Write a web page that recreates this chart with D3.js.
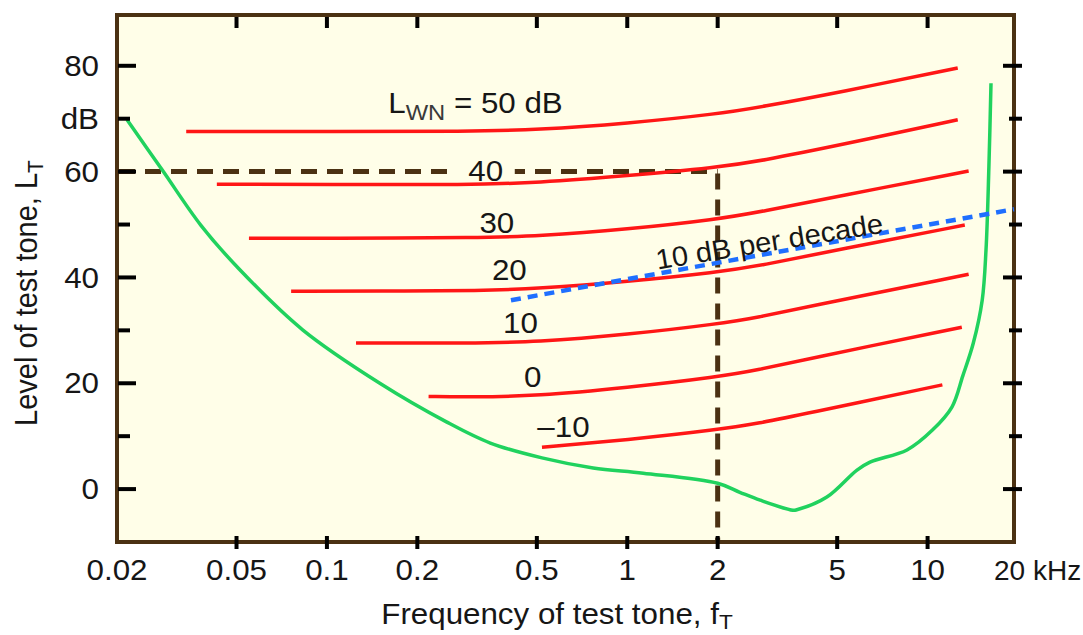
<!DOCTYPE html>
<html>
<head>
<meta charset="utf-8">
<title>masked threshold of tones in white noise</title>
<script src="https://cdn.jsdelivr.net/npm/d3@7"></script>
<style>
  body { margin: 0; background: #fff; }
  svg { display: block; }
  text { font-family: "Liberation Sans", Arial, sans-serif; fill: #161616; }
  .frame { fill: #fffee8; stroke: #4b3112; stroke-width: 4; }
  .masked { fill: none; stroke: #ff1616; stroke-width: 3.5; }
  .quiet { fill: none; stroke: #20d25e; stroke-width: 3.5; }
  .slope { fill: none; stroke: #1f6fff; stroke-width: 4.5; stroke-dasharray: 10 7; }
  .guide { fill: none; stroke: #4b3112; stroke-width: 5; stroke-dasharray: 16 10; }
  .tick { stroke: #000; stroke-width: 4; }
</style>
</head>
<body>
<svg id="main" width="1083" height="635"></svg>
<script>
// masked thresholds, [frequency kHz, level dB], one per white-noise level
let masked50 = [[0.034, 67.6], [0.1, 67.6], [0.3, 67.6], [0.5, 67.9], [1, 69.1], [2, 70.9], [2.77, 72.2], [5.1, 75.0], [12.6, 79.6]];
let masked40 = [[0.043, 57.6], [0.1, 57.6], [0.3, 57.5], [0.5, 57.9], [1, 59.2], [2, 60.8], [2.77, 62.0], [5.1, 65.0], [12.6, 69.8]];
let masked30 = [[0.055, 47.4], [0.1, 47.4], [0.33, 47.5], [0.5, 47.8], [1, 49.1], [2, 51.0], [2.77, 52.4], [5.1, 55.4], [13.7, 60.1]];
let masked20 = [[0.076, 37.4], [0.15, 37.4], [0.33, 37.5], [0.5, 37.9], [1, 39.2], [2, 41.0], [2.77, 42.2], [5.1, 45.3], [13.3, 49.9]];
let masked10 = [[0.125, 27.6], [0.3, 27.6], [0.5, 27.8], [1, 29.2], [2, 31.2], [2.77, 32.5], [3.76, 34.2], [13.7, 40.6]];
let masked0 = [[0.218, 17.5], [0.3, 17.4], [0.5, 17.6], [1, 19.2], [2, 21.2], [2.77, 22.6], [3.76, 24.3], [13.0, 30.6]];
let maskedM10 = [[0.52, 7.9], [1, 9.3], [2, 11.2], [2.77, 12.5], [3.76, 14.0], [11.2, 19.7]];

// threshold in quiet
let quiet = [[0.0216, 69.8], [0.0283, 60.3], [0.038, 49.9], [0.051, 41.6], [0.083, 30.1], [0.15, 20.0],
             [0.25, 12.7], [0.35, 8.7], [0.52, 5.9], [0.77, 4.0], [1.13, 3.0], [2.0, 1.1], [2.37, -0.6],
             [2.77, -2.1], [3.56, -4.0], [3.67, -3.9], [4.62, -1.5], [5.82, 3.6], [6.43, 5.1], [8.54, 7.4],
             [10.4, 11.2], [12.05, 15.5], [13.1, 21.4], [14.2, 27.6], [15.2, 35.7], [15.65, 45.2],
             [16.0, 60.9], [16.26, 76.7]];

// 10 dB per decade reference
let slopeLine = [[0.41, 35.7], [19.4, 52.9]];
// 60 dB / 2 kHz reading guide
let guideFreq = 2;
let guideLevel = 60;

let curves = [masked50, masked40, masked30, masked20, masked10, masked0, maskedM10];
let curveNames = ['40', '30', '20', '10', '0', '\u201310'];
let curveNameFreq = [0.338, 0.368, 0.405, 0.441, 0.484, 0.613];
let curveNameLevel = [58.3, 48.4, 39.6, 29.5, 19.3, 9.9];

let freqTicks = [0.05, 0.1, 0.2, 0.5, 1, 2, 5, 10];
let freqLabelValues = [0.02, 0.05, 0.1, 0.2, 0.5, 1, 2, 5, 10];
let freqLabelText = ['0.02', '0.05', '0.1', '0.2', '0.5', '1', '2', '5', '10'];
let levelTicks = [0, 10, 20, 30, 40, 50, 60, 70, 80];
let levelMajor = [0, 20, 40, 60, 80];
let levelLabelValues = [0, 20, 40, 60, 70, 80];
let levelLabelText = ['0', '20', '40', '60', 'dB', '80'];

let svg = d3.select('svg#main');
let stretch = 'scale(1.08,1)';

let x = d3.scaleLog().domain([0.02, 20]).range([117, 1018]);
let y = d3.scaleLinear().domain([-10, 89.6]).range([542, 15]);
let frameL = x(0.02), frameR = x(20) - 4, frameT = y(89.6), frameB = y(-10);

let smooth = d3.line()
    .x(d => x(d[0]))
    .y(d => y(d[1]))
    .curve(d3.curveBasis);
let through = d3.line()
    .x(d => x(d[0]))
    .y(d => y(d[1]))
    .curve(d3.curveCatmullRom.alpha(0.5));

svg.append('rect')
    .attr('class', 'frame')
    .attr('x', frameL).attr('y', frameT)
    .attr('width', frameR - frameL)
    .attr('height', frameB - frameT);

let plot = svg.append('g');

// guide dashes
plot.append('path')
    .attr('class', 'guide')
    .attr('d', d3.line()([[frameL + 2, y(guideLevel)], [x(guideFreq), y(guideLevel)]]));
plot.append('path')
    .attr('class', 'guide')
    .attr('d', d3.line()([[x(guideFreq), y(guideLevel) + 2], [x(guideFreq), frameB]]));

plot.selectAll('.masked')
    .data(curves)
    .enter()
    .append('path')
        .attr('class', 'masked')
        .attr('d', smooth);

plot.append('path')
    .attr('class', 'quiet')
    .attr('d', through(quiet));

plot.append('path')
    .attr('class', 'slope')
    .attr('d', d3.line().x(d => x(d[0])).y(d => y(d[1]))(slopeLine));

// ticks
let tickG = svg.append('g');
tickG.selectAll('.tb')
    .data(freqTicks)
    .enter().append('line')
        .attr('class', 'tick')
        .attr('x1', d => x(d)).attr('x2', d => x(d))
        .attr('y1', frameB - 6).attr('y2', frameB + 7);
tickG.selectAll('.tt')
    .data(freqTicks)
    .enter().append('line')
        .attr('class', 'tick')
        .attr('x1', d => x(d)).attr('x2', d => x(d))
        .attr('y1', frameT + 2).attr('y2', frameT + 13);
tickG.selectAll('.tl')
    .data(levelTicks)
    .enter().append('line')
        .attr('class', 'tick')
        .attr('x1', frameL + 1)
        .attr('x2', d => frameL + (levelMajor.includes(d) ? 19 : 13))
        .attr('y1', d => y(d)).attr('y2', d => y(d));
tickG.selectAll('.tr')
    .data(levelTicks)
    .enter().append('line')
        .attr('class', 'tick')
        .attr('x1', d => frameR - (levelMajor.includes(d) ? 11 : 5))
        .attr('x2', frameR + 8)
        .attr('y1', d => y(d)).attr('y2', d => y(d));

// tick labels
let labels = svg.append('g').style('font-size', '29px');
labels.selectAll('.fl')
    .data(freqLabelValues)
    .enter().append('text')
        .attr('text-anchor', 'middle')
        .attr('transform', d => 'translate(' + x(d) + ',580) ' + stretch)
        .text((d, i) => freqLabelText[i]);
labels.append('text')
    .style('font-size', '28px')
    .attr('transform', 'translate(' + (frameR - 20) + ',580)')
    .text('20 kHz');
labels.selectAll('.ll')
    .data(levelLabelValues)
    .enter().append('text')
        .attr('text-anchor', 'end')
        .attr('dy', '0.35em')
        .attr('transform', d => 'translate(99,' + y(d) + ') ' + stretch)
        .text((d, i) => levelLabelText[i]);

// axis titles
let xt = svg.append('text')
    .style('font-size', '29px')
    .attr('text-anchor', 'middle')
    .attr('transform', 'translate(557,624) ' + stretch);
xt.append('tspan').text('Frequency of test tone, f');
xt.append('tspan').attr('dy', 5).style('font-size', '21px').text('T');

let yt = svg.append('text')
    .style('font-size', '29px')
    .attr('text-anchor', 'middle')
    .attr('transform', 'translate(37,293) ' + stretch + ' rotate(-90)');
yt.append('tspan').text('Level of test tone, L');
yt.append('tspan').attr('dy', 6).style('font-size', '21px').text('T');

// curve names
let first = svg.append('text')
    .style('font-size', '29px')
    .attr('transform', 'translate(' + x(0.16) + ',' + y(71.1) + ') ' + stretch);
first.append('tspan').text('L');
first.append('tspan').attr('dy', 7).style('font-size', '22px').style('fill', '#3a3a3a').text('WN');
first.append('tspan').attr('dy', -7).text(' = 50 dB');

let names = svg.append('g').style('font-size', '29px');
names.selectAll('rect')
    .data(curveNames.slice(0, 1))
    .enter().append('rect')
        .attr('x', (d, i) => x(curveNameFreq[i]) - 29)
        .attr('y', y(guideLevel) - 8)
        .attr('width', 58).attr('height', 16)
        .attr('fill', '#fffee8');
names.selectAll('text')
    .data(curveNames)
    .enter().append('text')
        .attr('text-anchor', 'middle')
        .attr('transform', (d, i) => 'translate(' + x(curveNameFreq[i]) + ',' + y(curveNameLevel[i]) + ') ' + stretch)
        .text(d => d);

// slope annotation
let p0 = [x(slopeLine[0][0]), y(slopeLine[0][1])];
let p1 = [x(slopeLine[1][0]), y(slopeLine[1][1])];
let angle = Math.atan2(p1[1] - p0[1], p1[0] - p0[0]) * 180 / Math.PI;
svg.append('text')
    .style('font-size', '28px')
    .attr('transform', 'translate(' + x(1.26) + ',' + y(41.5) + ') rotate(' + (angle + 1) + ') scale(1.04,1)')
    .text('10 dB per decade');
</script>
</body>
</html>
